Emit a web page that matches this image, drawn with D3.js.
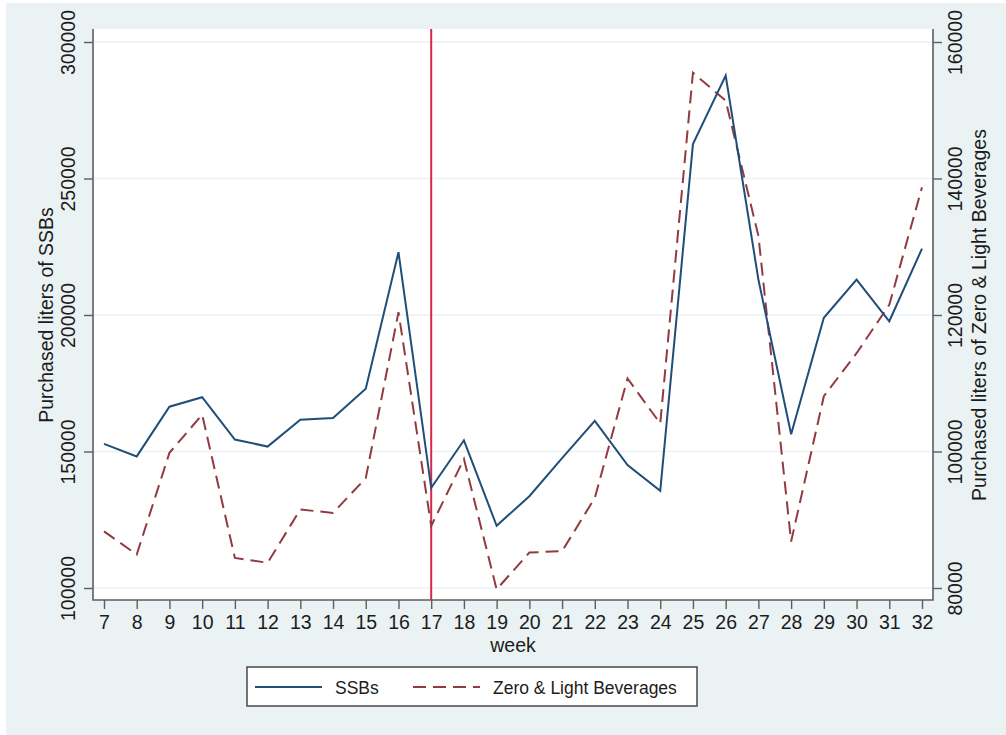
<!DOCTYPE html>
<html>
<head>
<meta charset="utf-8">
<script src="https://cdn.jsdelivr.net/npm/d3@7"></script>
<style>
  html, body { margin: 0; padding: 0; background: #ffffff; }
  svg { display: block; font-family: "Liberation Sans", Arial, Helvetica, sans-serif; }
</style>
</head>
<body>
<svg id="chart" width="1006" height="735"></svg>
<script>
// Weekly purchases, weeks 7–32
const weeks = d3.range(7, 33);
const ssbLiters = [
  152800, 148200, 166400, 169900, 154400, 151800, 161600, 162300, 173000, 223000,
  136700, 154100, 122800, 133600, 147600, 161200, 145000, 135600, 262600, 287700,
  213000, 156300, 199000, 213000, 197700, 224300
];
const zeroLightLiters = [
  88300, 84900, 99800, 105400, 84400, 83700, 91500, 91000, 96100, 120400,
  89100, 98900, 79800, 85200, 85400, 93200, 110700, 104100, 155500, 151400,
  131600, 86800, 108100, 114400, 121500, 138700
];
const leftTicks = [100000, 150000, 200000, 250000, 300000];
const rightTicks = [80000, 100000, 120000, 140000, 160000];
const interventionWeek = 17;
const seriesNames = ["SSBs", "Zero & Light Beverages"];

const svg = d3.select("#chart");
const W = 1006, H = 735;
const plot = { left: 93, right: 933, top: 29, bottom: 600 };

const bg = "#eaf2f3";
const navy = "#1f4e79";
const maroon = "#933a41";
const axisCol = "#5e5e5e";
const textCol = "#1c1c1c";

// Outer graph region
svg.append("rect").attr("x", 6).attr("y", 3).attr("width", W - 6).attr("height", H - 3).attr("fill", bg);
// Plot region
svg.append("rect")
  .attr("x", plot.left).attr("y", plot.top)
  .attr("width", plot.right - plot.left).attr("height", plot.bottom - plot.top)
  .attr("fill", "#ffffff");

const x = d3.scaleLinear().domain([7, 32]).range([104, 922]);
const yL = d3.scaleLinear().domain([100000, 300000]).range([588, 42]);
const yR = d3.scaleLinear().domain([80000, 160000]).range([588, 42]);

// Gridlines at left-axis ticks
svg.append("g").selectAll("line").data(leftTicks).join("line")
  .attr("x1", plot.left).attr("x2", plot.right)
  .attr("y1", d => yL(d)).attr("y2", d => yL(d))
  .attr("stroke", bg).attr("stroke-width", 1.6);

function styleAxis(g) {
  g.select(".domain").remove();
  g.selectAll(".tick line").attr("stroke", axisCol).attr("stroke-width", 1.4);
  g.selectAll(".tick text").attr("fill", textCol).attr("font-size", 19.5);
}

// Left axis
const gL = svg.append("g").attr("transform", `translate(${plot.left},0)`)
  .call(d3.axisLeft(yL).tickValues(leftTicks).tickSize(9).tickFormat(d3.format("d")));
styleAxis(gL);
gL.selectAll(".tick text")
  .attr("transform", "rotate(-90)").attr("text-anchor", "middle")
  .attr("x", 0).attr("y", -18).attr("dy", 0);

// Right axis
const gR = svg.append("g").attr("transform", `translate(${plot.right},0)`)
  .call(d3.axisRight(yR).tickValues(rightTicks).tickSize(9).tickFormat(d3.format("d")));
styleAxis(gR);
gR.selectAll(".tick text")
  .attr("transform", "rotate(-90)").attr("text-anchor", "middle")
  .attr("x", 0).attr("y", 29).attr("dy", 0);

// Bottom axis
const gB = svg.append("g").attr("transform", `translate(0,${plot.bottom})`)
  .call(d3.axisBottom(x).tickValues(weeks).tickSize(9).tickFormat(d3.format("d")));
styleAxis(gB);
gB.selectAll(".tick text").attr("y", 29).attr("dy", 0);

// Axis lines
svg.append("path")
  .attr("d", `M${plot.left},${plot.top}V${plot.bottom}H${plot.right}V${plot.top}`)
  .attr("fill", "none").attr("stroke", axisCol).attr("stroke-width", 1.6);

// Axis titles
svg.append("text").attr("transform", `translate(53,315) rotate(-90)`)
  .attr("text-anchor", "middle").attr("font-size", 19.5).attr("fill", textCol)
  .text("Purchased liters of SSBs");
svg.append("text").attr("transform", `translate(986,315) rotate(-90)`)
  .attr("text-anchor", "middle").attr("font-size", 19.5).attr("fill", textCol)
  .text("Purchased liters of Zero & Light Beverages");
svg.append("text").attr("x", (plot.left + plot.right) / 2).attr("y", 652)
  .attr("text-anchor", "middle").attr("font-size", 19.5).attr("fill", textCol)
  .text("week");

// Intervention marker
svg.append("line")
  .attr("x1", x(interventionWeek)).attr("x2", x(interventionWeek))
  .attr("y1", plot.top).attr("y2", plot.bottom)
  .attr("stroke", "#d5294c").attr("stroke-width", 2);

// Series
const lineL = d3.line().x((d, i) => x(weeks[i])).y(d => yL(d));
const lineR = d3.line().x((d, i) => x(weeks[i])).y(d => yR(d));

svg.append("path").datum(zeroLightLiters).attr("d", lineR)
  .attr("fill", "none").attr("stroke", maroon).attr("stroke-width", 2)
  .attr("stroke-dasharray", "13,7").attr("stroke-linejoin", "miter");
svg.append("path").datum(ssbLiters).attr("d", lineL)
  .attr("fill", "none").attr("stroke", navy).attr("stroke-width", 2)
  .attr("stroke-linejoin", "miter");

// Legend
const lg = svg.append("g");
lg.append("rect").attr("x", 247).attr("y", 667).attr("width", 450).attr("height", 39)
  .attr("fill", "#ffffff").attr("stroke", "#4a4a4a").attr("stroke-width", 1.5);
lg.append("line").attr("x1", 255).attr("x2", 322).attr("y1", 687).attr("y2", 687)
  .attr("stroke", navy).attr("stroke-width", 2);
lg.append("text").attr("x", 335).attr("y", 694).attr("font-size", 17.5).attr("fill", textCol)
  .text(seriesNames[0]);
lg.append("line").attr("x1", 413).attr("x2", 480).attr("y1", 687).attr("y2", 687)
  .attr("stroke", maroon).attr("stroke-width", 2).attr("stroke-dasharray", "13,7");
lg.append("text").attr("x", 493).attr("y", 694).attr("font-size", 17.5).attr("fill", textCol)
  .text(seriesNames[1]);
</script>
</body>
</html>
